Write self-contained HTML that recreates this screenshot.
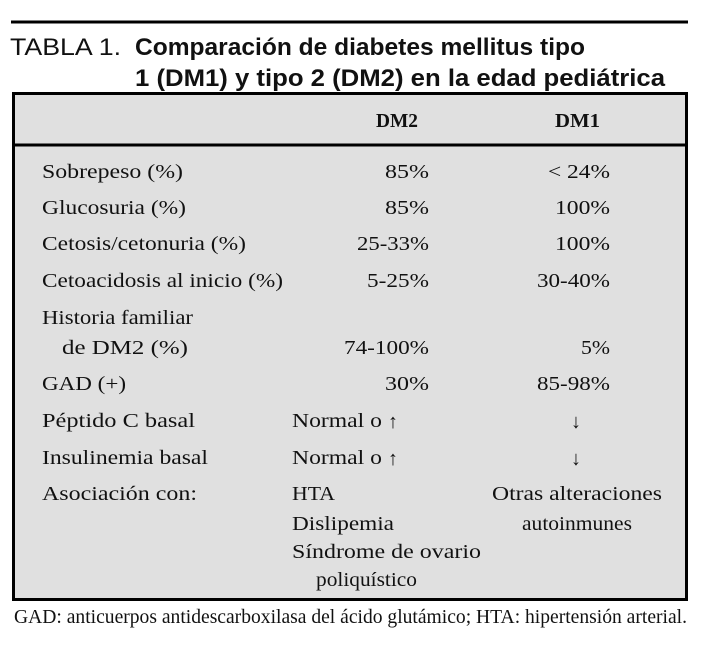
<!DOCTYPE html>
<html><head><meta charset="utf-8"><style>
html,body{margin:0;padding:0;background:#fff;}
svg{display:block;}
.s{font-family:"Liberation Serif",serif;font-size:20px;fill:#111;}
</style></head><body>
<svg width="706" height="650" viewBox="0 0 706 650">
<line x1="11" y1="22" x2="688" y2="22" stroke="#000" stroke-width="3"/>
<text x="10" y="55" font-family="Liberation Sans,sans-serif" font-size="24" fill="#111" textLength="111" lengthAdjust="spacingAndGlyphs">TABLA 1.</text>
<text x="135" y="55" font-family="Liberation Sans,sans-serif" font-weight="bold" font-size="24" fill="#111" textLength="450" lengthAdjust="spacingAndGlyphs">Comparación de diabetes mellitus tipo</text>
<text x="135" y="86" font-family="Liberation Sans,sans-serif" font-weight="bold" font-size="24" fill="#111" textLength="530" lengthAdjust="spacingAndGlyphs">1 (DM1) y tipo 2 (DM2) en la edad pediátrica</text>
<rect x="13.5" y="93.5" width="673" height="506" fill="#e0e0e0" stroke="#000" stroke-width="3"/>
<line x1="13" y1="145" x2="687" y2="145" stroke="#000" stroke-width="3"/>
<text class="s" x="376" y="127" font-weight="bold" textLength="42" lengthAdjust="spacingAndGlyphs">DM2</text>
<text class="s" x="555" y="127" font-weight="bold" textLength="45" lengthAdjust="spacingAndGlyphs">DM1</text>
<g>
<text class="s" x="42" y="178" textLength="141" lengthAdjust="spacingAndGlyphs">Sobrepeso (%)</text>
<text class="s" x="42" y="214" textLength="144" lengthAdjust="spacingAndGlyphs">Glucosuria (%)</text>
<text class="s" x="42" y="250" textLength="204" lengthAdjust="spacingAndGlyphs">Cetosis/cetonuria (%)</text>
<text class="s" x="42" y="287" textLength="241" lengthAdjust="spacingAndGlyphs">Cetoacidosis al inicio (%)</text>
<text class="s" x="42" y="324" textLength="151" lengthAdjust="spacingAndGlyphs">Historia familiar</text>
<text class="s" x="62" y="354" textLength="126" lengthAdjust="spacingAndGlyphs">de DM2 (%)</text>
<text class="s" x="42" y="390" textLength="84" lengthAdjust="spacingAndGlyphs">GAD (+)</text>
<text class="s" x="42" y="427" textLength="153" lengthAdjust="spacingAndGlyphs">Péptido C basal</text>
<text class="s" x="42" y="464" textLength="166" lengthAdjust="spacingAndGlyphs">Insulinemia basal</text>
<text class="s" x="42" y="500" textLength="155" lengthAdjust="spacingAndGlyphs">Asociación con:</text>
</g>
<g>
<text class="s" x="385" y="178" textLength="44" lengthAdjust="spacingAndGlyphs">85%</text>
<text class="s" x="385" y="214" textLength="44" lengthAdjust="spacingAndGlyphs">85%</text>
<text class="s" x="357" y="250" textLength="72" lengthAdjust="spacingAndGlyphs">25-33%</text>
<text class="s" x="367" y="287" textLength="62" lengthAdjust="spacingAndGlyphs">5-25%</text>
<text class="s" x="344" y="354" textLength="85" lengthAdjust="spacingAndGlyphs">74-100%</text>
<text class="s" x="385" y="390" textLength="44" lengthAdjust="spacingAndGlyphs">30%</text>
</g>
<g>
<text class="s" x="292" y="427" textLength="90" lengthAdjust="spacingAndGlyphs">Normal o</text>
<text class="s" x="388" y="428" font-size="24">↑</text>
<text class="s" x="292" y="464" textLength="90" lengthAdjust="spacingAndGlyphs">Normal o</text>
<text class="s" x="388" y="465" font-size="24">↑</text>
<text class="s" x="292" y="500" textLength="43" lengthAdjust="spacingAndGlyphs">HTA</text>
<text class="s" x="292" y="530" textLength="102" lengthAdjust="spacingAndGlyphs">Dislipemia</text>
<text class="s" x="292" y="558" textLength="189" lengthAdjust="spacingAndGlyphs">Síndrome de ovario</text>
<text class="s" x="316" y="586" textLength="101" lengthAdjust="spacingAndGlyphs">poliquístico</text>
</g>
<g>
<text class="s" x="548" y="178" textLength="62" lengthAdjust="spacingAndGlyphs">&lt; 24%</text>
<text class="s" x="555" y="214" textLength="55" lengthAdjust="spacingAndGlyphs">100%</text>
<text class="s" x="555" y="250" textLength="55" lengthAdjust="spacingAndGlyphs">100%</text>
<text class="s" x="537" y="287" textLength="73" lengthAdjust="spacingAndGlyphs">30-40%</text>
<text class="s" x="581" y="354" textLength="29" lengthAdjust="spacingAndGlyphs">5%</text>
<text class="s" x="537" y="390" textLength="73" lengthAdjust="spacingAndGlyphs">85-98%</text>
</g>
<g>
<text class="s" x="576" y="428" font-size="24" text-anchor="middle">↓</text>
<text class="s" x="576" y="465" font-size="24" text-anchor="middle">↓</text>
<text class="s" x="492" y="500" textLength="170" lengthAdjust="spacingAndGlyphs">Otras alteraciones</text>
<text class="s" x="522" y="530" textLength="110" lengthAdjust="spacingAndGlyphs">autoinmunes</text>
</g>
<text class="s" x="14" y="623" font-size="17" textLength="673" lengthAdjust="spacingAndGlyphs">GAD: anticuerpos antidescarboxilasa del ácido glutámico; HTA: hipertensión arterial.</text>
</svg>
</body></html>
